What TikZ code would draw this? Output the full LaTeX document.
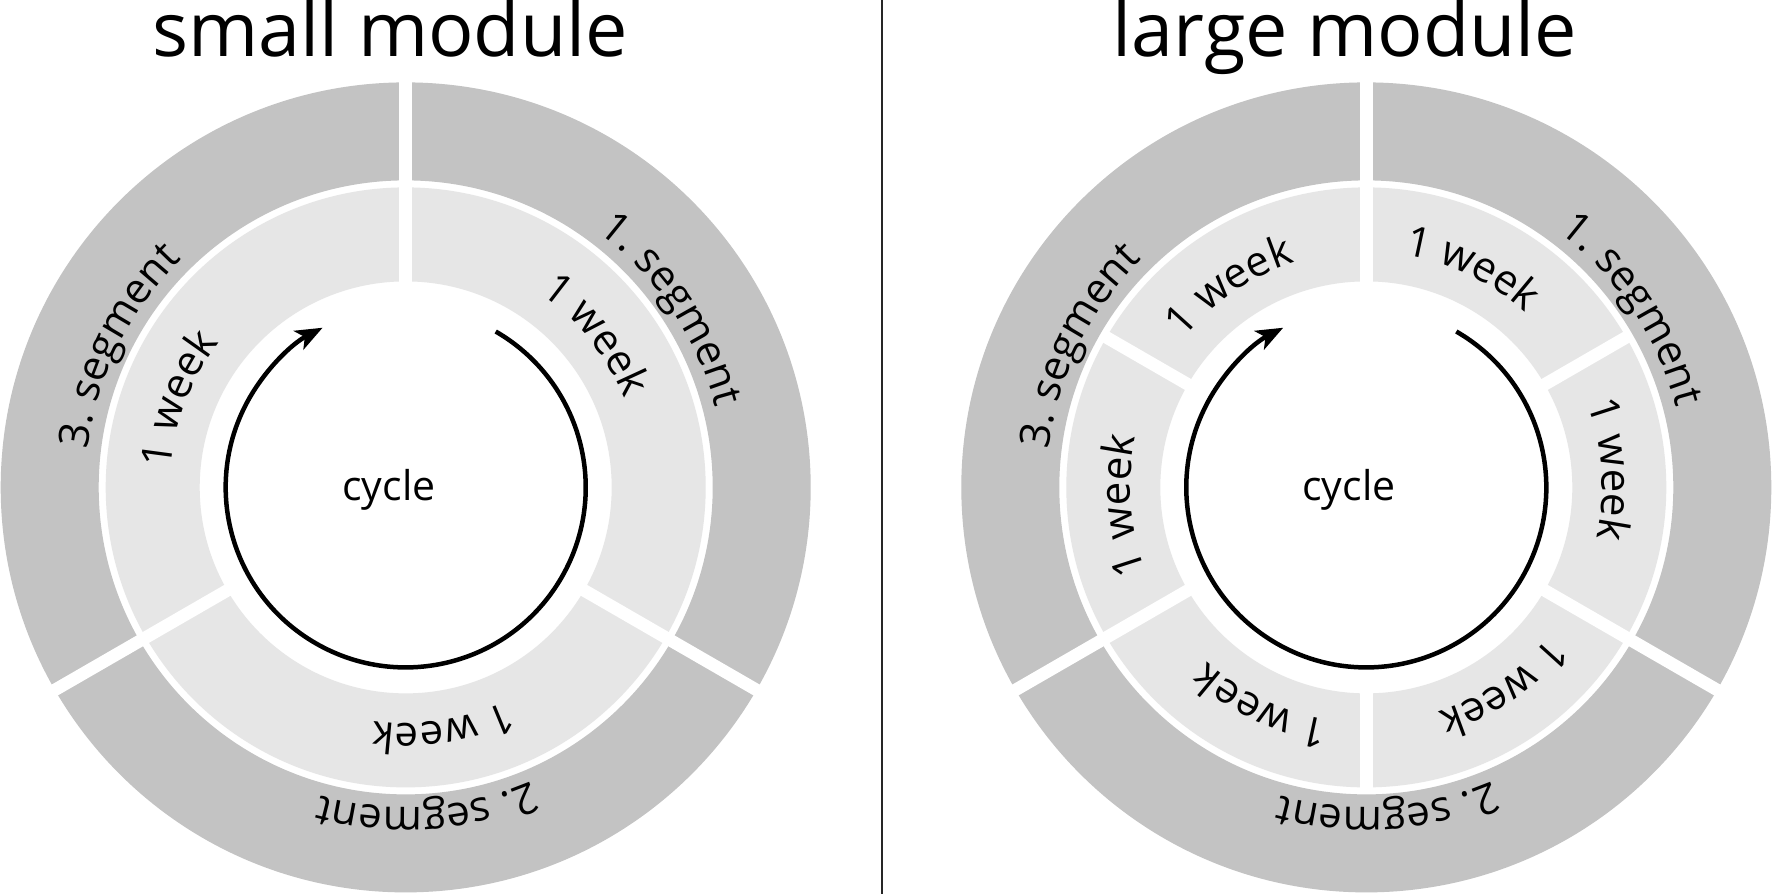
\documentclass[tikz,border=0pt]{standalone}
\usepackage{fontspec}
\setmainfont{Open Sans}
\usetikzlibrary{decorations.text,arrows.meta}
\definecolor{segcol}{RGB}{195,195,195}
\definecolor{weekcol}{RGB}{230,230,230}
\newcommand\ringfont{\fontsize{42}{50}\selectfont}
\newcommand\titlefont{\fontsize{75.5}{90}\selectfont}
\newcommand\cyclefont{\fontsize{41}{48}\selectfont}
% #1 centre, #2 angle of text centre, #3 baseline radius, #4 text
\newcommand\ringtext[4]{%
  \path[ringlabel={#4}] ([shift={(#2+50:#3)}]#1) arc[start angle=#2+50, end angle=#2-50, radius=#3];}
\begin{document}
\begin{tikzpicture}[x=1pt,y=1pt,
  ringlabel/.style={decorate, decoration={text along path, text align=center,
      text format delimiters={|}{|}, text={|\ringfont|#1}}},
  gapline/.style={white, line width=12.5pt},
  cyclearrow/.style={line width=4.5pt, -{Stealth[length=27pt,width=21pt,inset=7pt]}},
  divider/.style={line width=2pt, black!85}
]
\useasboundingbox (0,0) rectangle (1772,894);
\fill[white] (0,0) rectangle (1772,894);

\coordinate (L) at (405.7,406.6);
\coordinate (R) at (1366.3,406.6);

% ---------- small module ----------
\fill[segcol, even odd rule] (L) circle[radius=405pt] (L) circle[radius=307pt];
\fill[weekcol, even odd rule] (L) circle[radius=300pt] (L) circle[radius=206pt];
\foreach \a in {90,-30,210}
  \draw[gapline] ([shift={(\a:200pt)}]L) -- ([shift={(\a:412pt)}]L);
\ringtext{L}{33.8}{320pt}{1. segment}
\ringtext{L}{-86.2}{320pt}{2. segment}
\ringtext{L}{153.8}{320pt}{3. segment}
\ringtext{L}{38.7}{236pt}{1 week}
\ringtext{L}{-81.3}{236pt}{1 week}
\ringtext{L}{158.7}{236pt}{1 week}
\draw[cyclearrow] ([shift={(60:180pt)}]L) arc[start angle=60, end angle=-242.5, radius=180pt];
\node[font=\cyclefont, anchor=base, inner sep=0pt] (cycL) at (389,393.4) {cycle};
\node[font=\titlefont, anchor=base, inner sep=0pt] (titleL) at (390,837.5) {small module};

% ---------- large module ----------
\fill[segcol, even odd rule] (R) circle[radius=405pt] (R) circle[radius=307pt];
\fill[weekcol, even odd rule] (R) circle[radius=300pt] (R) circle[radius=206pt];
\foreach \a in {90,-30,210}
  \draw[gapline] ([shift={(\a:300pt)}]R) -- ([shift={(\a:412pt)}]R);
\foreach \a in {90,30,-30,-90,-150,150}
  \draw[gapline] ([shift={(\a:200pt)}]R) -- ([shift={(\a:305pt)}]R);
\ringtext{R}{33.8}{320pt}{1. segment}
\ringtext{R}{-86.2}{320pt}{2. segment}
\ringtext{R}{153.8}{320pt}{3. segment}
\ringtext{R}{64.2}{236pt}{1 week}
\ringtext{R}{4.2}{236pt}{1 week}
\ringtext{R}{-55.8}{236pt}{1 week}
\ringtext{R}{-115.8}{236pt}{1 week}
\ringtext{R}{184.2}{236pt}{1 week}
\ringtext{R}{124.2}{236pt}{1 week}
\draw[cyclearrow] ([shift={(60:180pt)}]R) arc[start angle=60, end angle=-242.5, radius=180pt];
\node[font=\cyclefont, anchor=base, inner sep=0pt] (cycR) at (1349,393.4) {cycle};
\node[font=\titlefont, anchor=base, inner sep=0pt] (titleR) at (1345,837.5) {large module};

% divider
\coordinate (dtop) at (881.7,894);
\coordinate (dbot) at (881.7,0);
\draw[divider] (dtop) -- (dbot);
\end{tikzpicture}
\end{document}
